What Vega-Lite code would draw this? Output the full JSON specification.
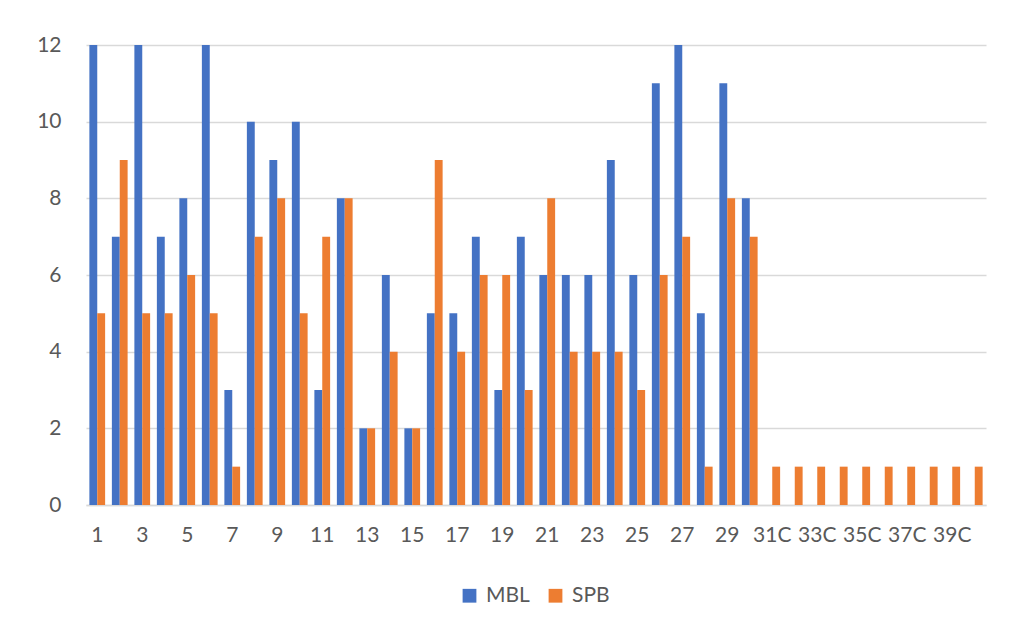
{
  "$schema": "https://vega.github.io/schema/vega-lite/v6.json",
  "width": 900,
  "height": 460,
  "autosize": "none",
  "padding": {"left": 86, "top": 45, "right": 40, "bottom": 125},
  "background": "white",
  "config": {
    "view": {"stroke": null},
    "font": "Lato",
    "axis": {"labelFont": "Lato", "labelColor": "#595959", "labelFontSize": 21},
    "legend": {"labelFont": "Lato", "labelColor": "#595959", "labelFontSize": 21}
  },
  "data": {
    "values": [
      {"cat": "1", "series": "MBL", "value": 12}, {"cat": "1", "series": "SPB", "value": 5},
      {"cat": "2", "series": "MBL", "value": 7}, {"cat": "2", "series": "SPB", "value": 9},
      {"cat": "3", "series": "MBL", "value": 12}, {"cat": "3", "series": "SPB", "value": 5},
      {"cat": "4", "series": "MBL", "value": 7}, {"cat": "4", "series": "SPB", "value": 5},
      {"cat": "5", "series": "MBL", "value": 8}, {"cat": "5", "series": "SPB", "value": 6},
      {"cat": "6", "series": "MBL", "value": 12}, {"cat": "6", "series": "SPB", "value": 5},
      {"cat": "7", "series": "MBL", "value": 3}, {"cat": "7", "series": "SPB", "value": 1},
      {"cat": "8", "series": "MBL", "value": 10}, {"cat": "8", "series": "SPB", "value": 7},
      {"cat": "9", "series": "MBL", "value": 9}, {"cat": "9", "series": "SPB", "value": 8},
      {"cat": "10", "series": "MBL", "value": 10}, {"cat": "10", "series": "SPB", "value": 5},
      {"cat": "11", "series": "MBL", "value": 3}, {"cat": "11", "series": "SPB", "value": 7},
      {"cat": "12", "series": "MBL", "value": 8}, {"cat": "12", "series": "SPB", "value": 8},
      {"cat": "13", "series": "MBL", "value": 2}, {"cat": "13", "series": "SPB", "value": 2},
      {"cat": "14", "series": "MBL", "value": 6}, {"cat": "14", "series": "SPB", "value": 4},
      {"cat": "15", "series": "MBL", "value": 2}, {"cat": "15", "series": "SPB", "value": 2},
      {"cat": "16", "series": "MBL", "value": 5}, {"cat": "16", "series": "SPB", "value": 9},
      {"cat": "17", "series": "MBL", "value": 5}, {"cat": "17", "series": "SPB", "value": 4},
      {"cat": "18", "series": "MBL", "value": 7}, {"cat": "18", "series": "SPB", "value": 6},
      {"cat": "19", "series": "MBL", "value": 3}, {"cat": "19", "series": "SPB", "value": 6},
      {"cat": "20", "series": "MBL", "value": 7}, {"cat": "20", "series": "SPB", "value": 3},
      {"cat": "21", "series": "MBL", "value": 6}, {"cat": "21", "series": "SPB", "value": 8},
      {"cat": "22", "series": "MBL", "value": 6}, {"cat": "22", "series": "SPB", "value": 4},
      {"cat": "23", "series": "MBL", "value": 6}, {"cat": "23", "series": "SPB", "value": 4},
      {"cat": "24", "series": "MBL", "value": 9}, {"cat": "24", "series": "SPB", "value": 4},
      {"cat": "25", "series": "MBL", "value": 6}, {"cat": "25", "series": "SPB", "value": 3},
      {"cat": "26", "series": "MBL", "value": 11}, {"cat": "26", "series": "SPB", "value": 6},
      {"cat": "27", "series": "MBL", "value": 12}, {"cat": "27", "series": "SPB", "value": 7},
      {"cat": "28", "series": "MBL", "value": 5}, {"cat": "28", "series": "SPB", "value": 1},
      {"cat": "29", "series": "MBL", "value": 11}, {"cat": "29", "series": "SPB", "value": 8},
      {"cat": "30", "series": "MBL", "value": 8}, {"cat": "30", "series": "SPB", "value": 7},
      {"cat": "31C", "series": "MBL", "value": 0}, {"cat": "31C", "series": "SPB", "value": 1},
      {"cat": "32C", "series": "MBL", "value": 0}, {"cat": "32C", "series": "SPB", "value": 1},
      {"cat": "33C", "series": "MBL", "value": 0}, {"cat": "33C", "series": "SPB", "value": 1},
      {"cat": "34C", "series": "MBL", "value": 0}, {"cat": "34C", "series": "SPB", "value": 1},
      {"cat": "35C", "series": "MBL", "value": 0}, {"cat": "35C", "series": "SPB", "value": 1},
      {"cat": "36C", "series": "MBL", "value": 0}, {"cat": "36C", "series": "SPB", "value": 1},
      {"cat": "37C", "series": "MBL", "value": 0}, {"cat": "37C", "series": "SPB", "value": 1},
      {"cat": "38C", "series": "MBL", "value": 0}, {"cat": "38C", "series": "SPB", "value": 1},
      {"cat": "39C", "series": "MBL", "value": 0}, {"cat": "39C", "series": "SPB", "value": 1},
      {"cat": "40C", "series": "MBL", "value": 0}, {"cat": "40C", "series": "SPB", "value": 1}
    ]
  },
  "mark": {"type": "bar", "stroke": null},
  "encoding": {
    "x": {
      "field": "cat",
      "type": "nominal",
      "sort": null,
      "title": null,
      "scale": {"paddingInner": 0.3, "paddingOuter": 0.15},
      "axis": {
        "values": ["1","3","5","7","9","11","13","15","17","19","21","23","25","27","29","31C","33C","35C","37C","39C"],
        "labelAngle": 0,
        "ticks": false,
        "domain": true,
        "domainColor": "#d9d9d9",
        "domainWidth": 1.5,
        "labelPadding": 19
      }
    },
    "xOffset": {"field": "series", "type": "nominal", "sort": ["MBL", "SPB"]},
    "y": {
      "field": "value",
      "type": "quantitative",
      "title": null,
      "scale": {"domain": [0, 12]},
      "axis": {
        "values": [0, 2, 4, 6, 8, 10, 12],
        "ticks": false,
        "domain": false,
        "grid": true,
        "gridColor": "#d9d9d9",
        "gridWidth": 1.5,
        "labelPadding": 25
      }
    },
    "color": {
      "field": "series",
      "type": "nominal",
      "scale": {"domain": ["MBL", "SPB"], "range": ["#4472C4", "#ED7D31"]},
      "legend": {
        "title": null,
        "orient": "none",
        "direction": "horizontal",
        "legendX": 373,
        "legendY": 540,
        "symbolType": "square",
        "symbolSize": 190,
        "symbolStrokeWidth": 0,
        "columnPadding": 15,
        "labelOffset": 6
      }
    }
  }
}
